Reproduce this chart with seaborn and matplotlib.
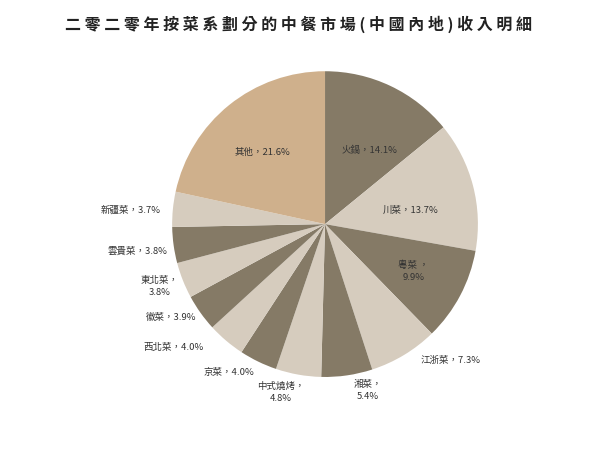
import seaborn as sns
import matplotlib.pyplot as plt

# 2020 中餐市場收入按菜系 (%)
cuisines = ['火鍋', '川菜', '粵菜', '江浙菜', '湘菜', '中式燒烤', '京菜',
            '西北菜', '徽菜', '東北菜', '雲貴菜', '新疆菜', '其他']
shares = [14.1, 13.7, 9.9, 7.3, 5.4, 4.8, 4.0, 4.0, 3.9, 3.8, 3.8, 3.7, 21.6]
# labels that wrap to a second line
wrapped = {'粵菜', '湘菜', '中式燒烤', '東北菜'}

# label anchor positions (in pie-radius units)
label_pos = [(0.29, 0.48), (0.56, 0.09), (0.58, -0.31), (0.82, -0.89),
             (0.28, -1.09), (-0.29, -1.10), (-0.63, -0.97), (-0.99, -0.81),
             (-1.01, -0.61), (-1.08, -0.41), (-1.23, -0.18), (-1.27, 0.09),
             (-0.41, 0.47)]

sns.set_theme(style='white')
plt.rcParams['font.family'] = ['Noto Sans CJK TC', 'DejaVu Sans']

dark, light, tan = '#857a66', '#d6ccbe', '#cfb08c'
colors = [dark if i % 2 == 0 else light for i in range(len(shares) - 1)] + [tan]

fig = plt.figure(figsize=(6.15, 4.5), dpi=100)
ax = fig.add_axes([0.1805, 0.026, 0.696, 0.952])
ax.pie(shares, colors=colors, startangle=90, counterclock=False,
       wedgeprops=dict(linewidth=0))
ax.set_xlim(-1.4, 1.4)
ax.set_ylim(-1.4, 1.4)
ax.set_aspect('equal')
ax.axis('off')

for name, val, (x, y) in zip(cuisines, shares, label_pos):
    sep = '，\n' if name in wrapped else '，'
    if name == '粵菜':
        sep = ' ，\n'
    ax.text(x, y, f'{name}{sep}{val:.1f}%', ha='center', va='center',
            fontsize=6.8, color='#333333', linespacing=1.45, clip_on=False)

title = '二零二零年按菜系劃分的中餐市場(中國內地)收入明細'
fig.text(0.486, 0.945, ' '.join(title), ha='center', va='center',
         fontsize=11.5, fontweight='bold', color='#222222')

fig.savefig('out.png', dpi=100)
